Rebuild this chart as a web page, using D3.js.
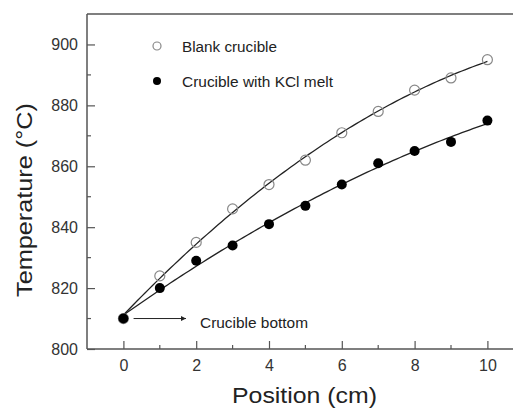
<!DOCTYPE html>
<html>
<head>
<meta charset="utf-8">
<script src="https://cdn.jsdelivr.net/npm/d3@7"></script>
<style>
  body { margin: 0; background: #fff; }
  svg { display: block; font-family: "Liberation Sans", Arial, sans-serif; }
</style>
</head>
<body>
<div></div>
<script>
var positions = [0, 1, 2, 3, 4, 5, 6, 7, 8, 9, 10];
var blankTemps = [810, 824, 835, 846, 854, 862, 871, 878, 885, 889, 895];
var kclTemps = [810, 820, 829, 834, 841, 847, 854, 861, 865, 868, 875];
var xTicks = [0, 2, 4, 6, 8, 10];
var yTicks = [800, 820, 840, 860, 880, 900];

var width = 513, height = 411;
var plotLeft = 87, plotTop = 14, plotBottom = 349;

var svg = d3.select("div").append("svg").attr("width", width).attr("height", height);

var x = d3.scaleLinear().domain([-1, 11]).range([plotLeft, plotLeft + 12 * 36.4]);
var y = d3.scaleLinear().domain([800, 910]).range([plotBottom, plotTop]);

// quadratic least-squares fit of a series (the smooth lines in the figure)
function quadFit(xs, ys) {
  var n = xs.length, s = [0, 0, 0, 0, 0], t = [0, 0, 0];
  for (var i = 0; i < n; i++) {
    var p = 1;
    for (var k = 0; k < 5; k++) { s[k] += p; if (k < 3) t[k] += p * ys[i]; p *= xs[i]; }
  }
  var m = [[s[0], s[1], s[2], t[0]], [s[1], s[2], s[3], t[1]], [s[2], s[3], s[4], t[2]]];
  for (var c = 0; c < 3; c++) {
    for (var r = c + 1; r < 3; r++) {
      var f = m[r][c] / m[c][c];
      for (var j = c; j < 4; j++) m[r][j] -= f * m[c][j];
    }
  }
  var a = [0, 0, 0];
  for (var r2 = 2; r2 >= 0; r2--) {
    var v = m[r2][3];
    for (var j2 = r2 + 1; j2 < 3; j2++) v -= m[r2][j2] * a[j2];
    a[r2] = v / m[r2][r2];
  }
  return function(xv) { return a[0] + a[1] * xv + a[2] * xv * xv; };
}

// frame
var frameColor = "#555";
svg.append("line").attr("x1", plotLeft).attr("x2", width).attr("y1", plotTop).attr("y2", plotTop)
  .attr("stroke", frameColor).attr("stroke-width", 1.5);

var xAxis = svg.append("g").attr("transform", "translate(0," + plotBottom + ")")
  .call(d3.axisBottom(x).tickValues(xTicks).tickSize(-8).tickPadding(11).tickFormat(d3.format("d")));
var yAxis = svg.append("g").attr("transform", "translate(" + plotLeft + ",0)")
  .call(d3.axisLeft(y).tickValues(yTicks).tickSize(-8).tickPadding(9).tickFormat(d3.format("d")));

[xAxis, yAxis].forEach(function(g) {
  g.select(".domain").attr("stroke", frameColor).attr("stroke-width", 1.5);
  g.selectAll(".tick line").attr("stroke", frameColor).attr("stroke-width", 1.2);
  g.selectAll(".tick text").attr("fill", "#333").style("font-size", "16px");
});
xAxis.select(".domain").attr("d", "M" + plotLeft + ",0H" + width);
yAxis.select(".domain").attr("d", "M0," + plotTop + "V" + plotBottom);

// minor ticks
svg.append("g").selectAll("line").data([1, 3, 5, 7, 9]).enter().append("line")
  .attr("x1", d => x(d)).attr("x2", d => x(d)).attr("y1", plotBottom).attr("y2", plotBottom - 4)
  .attr("stroke", frameColor).attr("stroke-width", 1.2);
svg.append("g").selectAll("line").data([810, 830, 850, 870, 890]).enter().append("line")
  .attr("x1", plotLeft).attr("x2", plotLeft + 4).attr("y1", d => y(d)).attr("y2", d => y(d))
  .attr("stroke", frameColor).attr("stroke-width", 1.2);

// fit lines
var line = d3.line().x(d => x(d[0])).y(d => y(d[1]));
[blankTemps, kclTemps].forEach(function(series) {
  var fit = quadFit(positions, series);
  var pts = d3.range(0, 10.01, 0.1).map(v => [v, fit(v)]);
  svg.append("path").datum(pts).attr("d", line)
    .attr("fill", "none").attr("stroke", "#222").attr("stroke-width", 1.3);
});

// points
svg.append("g").selectAll("circle").data(positions).enter().append("circle")
  .attr("cx", d => x(d)).attr("cy", (d, i) => y(blankTemps[i])).attr("r", 5)
  .attr("fill", "none").attr("stroke", "#888").attr("stroke-width", 1.2);
svg.append("g").selectAll("circle").data(positions).enter().append("circle")
  .attr("cx", d => x(d)).attr("cy", (d, i) => y(kclTemps[i])).attr("r", 5)
  .attr("fill", "#000");

// legend
svg.append("circle").attr("cx", 157).attr("cy", 46).attr("r", 4)
  .attr("fill", "#fff").attr("stroke", "#888").attr("stroke-width", 1.2);
svg.append("text").attr("x", 182).attr("y", 52).text("Blank crucible")
  .attr("textLength", 95).attr("lengthAdjust", "spacingAndGlyphs")
  .style("font-size", "14px").attr("fill", "#222");
svg.append("circle").attr("cx", 157).attr("cy", 81).attr("r", 4).attr("fill", "#000");
svg.append("text").attr("x", 182).attr("y", 87).text("Crucible with KCl melt")
  .attr("textLength", 151).attr("lengthAdjust", "spacingAndGlyphs")
  .style("font-size", "14px").attr("fill", "#222");

// annotation
svg.append("defs").append("marker").attr("id", "arr").attr("viewBox", "0 0 10 10")
  .attr("refX", 10).attr("refY", 5).attr("markerWidth", 7).attr("markerHeight", 5)
  .attr("orient", "auto").append("path").attr("d", "M0,0L10,5L0,10z").attr("fill", "#222");
svg.append("line").attr("x1", x(0.28)).attr("x2", x(1.72)).attr("y1", y(810)).attr("y2", y(810))
  .attr("stroke", "#222").attr("stroke-width", 1).attr("marker-end", "url(#arr)");
svg.append("text").attr("x", 200).attr("y", 328).text("Crucible bottom")
  .attr("textLength", 108).attr("lengthAdjust", "spacingAndGlyphs")
  .style("font-size", "14px").attr("fill", "#222");

// axis titles
svg.append("text").attr("x", 232).attr("y", 403)
  .attr("textLength", 145).attr("lengthAdjust", "spacingAndGlyphs")
  .text("Position (cm)").style("font-size", "22px").attr("fill", "#222");
svg.append("text").attr("transform", "translate(32,297) rotate(-90)")
  .attr("textLength", 194).attr("lengthAdjust", "spacingAndGlyphs")
  .text("Temperature (°C)").style("font-size", "22px").attr("fill", "#222");
</script>
</body>
</html>
